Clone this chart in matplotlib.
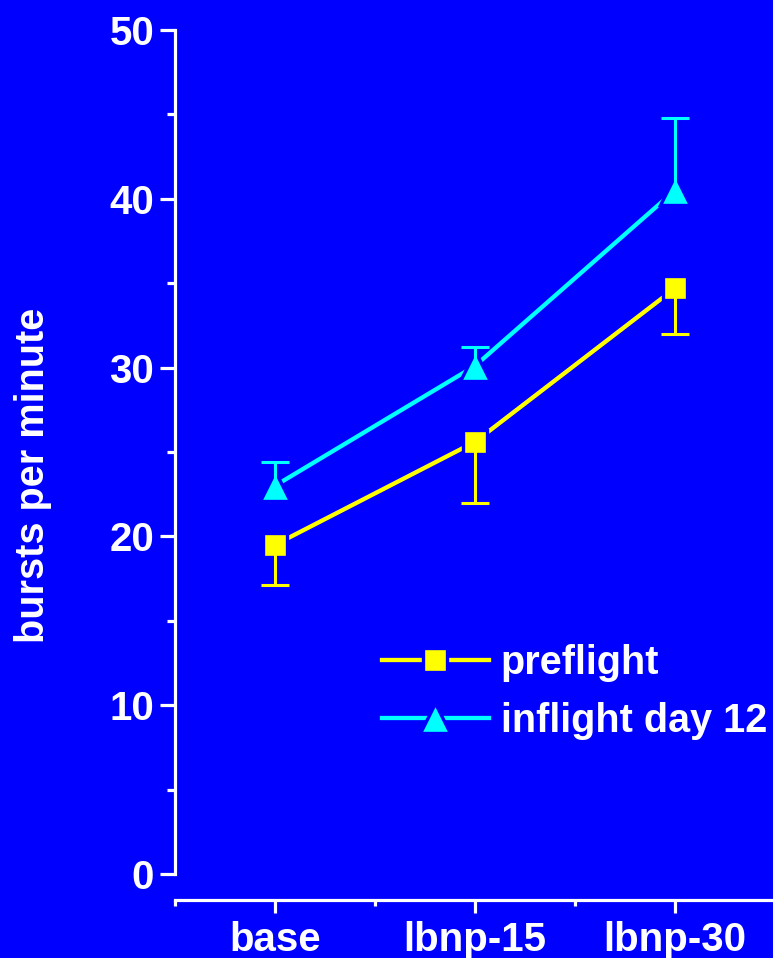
import matplotlib.pyplot as plt
import numpy as np
from matplotlib.ticker import MultipleLocator, FixedLocator

# data
conditions = ["base", "lbnp-15", "lbnp-30"]
preflight = np.array([19.5, 25.6, 34.7])
preflight_err = np.array([2.4, 3.6, 2.7])     # drawn downward only
inflight = np.array([23.0, 30.1, 40.5])
inflight_err = np.array([1.4, 1.1, 4.3])      # drawn upward only

bg = "#0000FF"
c_pre = "#FFFF00"
c_in = "#00FFFF"

plt.rcParams.update({
    "font.family": ["Liberation Sans", "DejaVu Sans"],
    "font.weight": "bold",
    "text.color": "white",
})

dpi = 100
fig = plt.figure(figsize=(773 / dpi, 958 / dpi), dpi=dpi, facecolor=bg)
ax = fig.add_axes([175 / 773, 84 / 958, 600 / 773, 844 / 958], facecolor=bg)

x = np.arange(1, len(conditions) + 1)

# connecting lines
ax.plot(x, preflight, color=c_pre, lw=3.1, zorder=2, clip_on=False)
ax.plot(x, inflight, color=c_in, lw=3.1, zorder=2, clip_on=False)

# one-sided error bars: stem plus a cap at the far end only
pre_low = preflight - preflight_err
in_high = inflight + inflight_err
ax.vlines(x, pre_low, preflight, color=c_pre, lw=2.2, zorder=4)
ax.plot(x, pre_low, ls="none", marker="_", ms=19.5, mew=2.2, color=c_pre, zorder=4, clip_on=False)
ax.vlines(x, inflight, in_high, color=c_in, lw=2.2, zorder=4)
ax.plot(x, in_high, ls="none", marker="_", ms=19.5, mew=2.2, color=c_in, zorder=4, clip_on=False)

# markers with a blue rim so the lines stop just short of them
ax.plot(x, preflight, ls="none", marker="s", ms=17, mfc=c_pre, mec=bg, mew=2.4,
        zorder=3, clip_on=False)
ax.plot(x, inflight, ls="none", marker="^", ms=22, mfc=c_in, mec=bg, mew=2.4,
        zorder=3, clip_on=False)

# legend proxies
h_pre, = ax.plot([], [], color=c_pre, lw=3.1, marker="s", ms=17, mfc=c_pre, mec=bg, mew=2.4)
h_in, = ax.plot([], [], color=c_in, lw=3.1, marker="^", ms=22, mfc=c_in, mec=bg, mew=2.4)
ax.legend([h_pre, h_in], ["preflight", "inflight day 12"], loc="center left",
          bbox_to_anchor=(382 / 773, 1 - 692 / 958), bbox_transform=fig.transFigure,
          frameon=False, fontsize=28.5, handlelength=2.7, handletextpad=0.3,
          labelspacing=0.5, borderpad=0, borderaxespad=0, labelcolor="white")

# axes
ax.set_xlim(0.5, 3.5)
ax.set_ylim(0, 50)
for s in ["top", "right"]:
    ax.spines[s].set_visible(False)
for s in ["left", "bottom"]:
    ax.spines[s].set_color("white")
    ax.spines[s].set_linewidth(2.3)
ax.spines["bottom"].set_position(("outward", 18.7))

ax.yaxis.set_major_locator(MultipleLocator(10))
ax.yaxis.set_minor_locator(MultipleLocator(5))
ax.xaxis.set_major_locator(FixedLocator(x))
ax.xaxis.set_minor_locator(FixedLocator([0.5, 1.5, 2.5, 3.5]))
ax.set_xticklabels(conditions)

ax.tick_params(axis="y", which="major", length=11, width=2.3, color="white",
               labelcolor="white", labelsize=29, pad=4)
ax.tick_params(axis="y", which="minor", length=6, width=2.3, color="white")
ax.tick_params(axis="x", which="major", length=9, width=2.3, color="white",
               labelcolor="white", labelsize=29, pad=6)
ax.tick_params(axis="x", which="minor", length=4.5, width=2.3, color="white")

fig.text(33 / 773, 1 - 475 / 958, "bursts per minute", rotation=90,
         ha="center", va="center", fontsize=28.5, fontweight="bold", color="white")

fig.savefig("out.png", dpi=dpi, facecolor=bg)
